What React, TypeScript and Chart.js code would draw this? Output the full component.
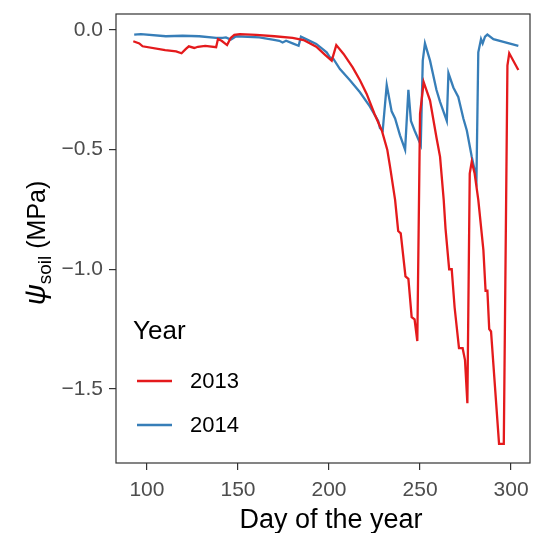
import React, { useEffect, useRef } from "react";
import { Chart, registerables } from "chart.js";
Chart.register(...registerables);

const days2013 = [92.5,95.8,97.6,110,116,119,121.4,123,126,128,132,138,139,141,144,146,148,151,160,170,180,186,193,198,201.5,204,208,213,217,220.7,225,229,232,233.5,236.3,238,239.4,242,243.6,245.4,247,248.5,250,252,255.5,259,261,263,264,266,267.4,269,271.4,273.4,274.7,276,277.3,278.4,280,282,284.8,286,287,288,289,293.4,296,298,299,304];
const psi2013 = [-0.047,-0.056,-0.068,-0.084,-0.089,-0.097,-0.079,-0.068,-0.075,-0.070,-0.066,-0.072,-0.038,-0.045,-0.063,-0.033,-0.020,-0.017,-0.020,-0.026,-0.033,-0.042,-0.070,-0.105,-0.128,-0.063,-0.100,-0.156,-0.21,-0.267,-0.351,-0.42,-0.50,-0.57,-0.71,-0.84,-0.85,-1.03,-1.04,-1.20,-1.21,-1.30,-0.35,-0.218,-0.295,-0.448,-0.53,-0.71,-0.83,-1.0,-1.0,-1.16,-1.33,-1.33,-1.38,-1.56,-0.60,-0.55,-0.60,-0.71,-0.92,-1.09,-1.09,-1.25,-1.26,-1.73,-1.73,-0.149,-0.097,-0.167];

const days2014 = [93,96.7,110.4,119.6,128.7,138,141.6,143.4,146,149,161.7,169,172.7,174.5,176.4,180,183.3,184.6,187.4,193,198.7,200.5,202.4,206,211.5,217,222.5,227,228,229.5,231.7,234.4,236.3,239,241.8,243.6,245,247,250.4,251.5,252.7,255.5,259,261,264.7,265.6,268.3,271,273.8,275.7,278.4,281,282,283.5,284.4,285.7,287,290.3,304];
const psi2014 = [-0.019,-0.017,-0.026,-0.024,-0.026,-0.033,-0.033,-0.031,-0.040,-0.026,-0.031,-0.040,-0.045,-0.052,-0.045,-0.056,-0.066,-0.028,-0.038,-0.058,-0.093,-0.114,-0.121,-0.163,-0.21,-0.26,-0.32,-0.38,-0.41,-0.42,-0.23,-0.34,-0.37,-0.44,-0.50,-0.25,-0.38,-0.42,-0.48,-0.128,-0.056,-0.128,-0.25,-0.30,-0.38,-0.18,-0.24,-0.28,-0.37,-0.42,-0.53,-0.62,-0.093,-0.038,-0.056,-0.028,-0.019,-0.038,-0.066];

const years = ["2013", "2014"];
const colors = ["#E41A1C", "#377EB8"];
const xTicks = [100, 150, 200, 250, 300];
const yTicks = [0, -0.5, -1.0, -1.5];
const legendTitle = "Year";
const xTitle = "Day of the year";

const FONT = "'Liberation Sans', Arial, sans-serif";

export default function App() {
  const ref = useRef<HTMLCanvasElement | null>(null);
  useEffect(() => {
    const canvas = ref.current!;
    const mk = (d: number[], v: number[]) => d.map((x, i) => ({ x, y: v[i] }));

    const framePlugin = {
      id: "frame",
      afterDraw(chart: any) {
        const { ctx, chartArea: a } = chart;
        ctx.save();
        ctx.strokeStyle = "#333333";
        ctx.lineWidth = 1.2;
        ctx.strokeRect(a.left, a.top, a.right - a.left, a.bottom - a.top);

        // x title
        ctx.fillStyle = "#000";
        ctx.font = `27px ${FONT}`;
        ctx.textAlign = "center";
        ctx.textBaseline = "middle";
        ctx.fillText(xTitle, 331, 521);
        ctx.restore();

        // y title
        ctx.save();
        ctx.translate(37, 243);
        ctx.rotate(-Math.PI / 2);
        ctx.fillStyle = "#000";
        ctx.textBaseline = "alphabetic";
        ctx.textAlign = "left";
        const psi = "ψ";
        const f1 = `italic 29px ${FONT}`;
        const f2 = `19px ${FONT}`;
        const f3 = `25px ${FONT}`;
        ctx.font = f1;
        const w1 = ctx.measureText(psi).width;
        ctx.font = f2;
        const w2 = ctx.measureText("soil").width;
        ctx.font = f3;
        const w3 = ctx.measureText(" (MPa)").width;
        let x0 = -(w1 + w2 + w3) / 2;
        ctx.font = f1;
        ctx.fillText(psi, x0, 8);
        x0 += w1;
        ctx.font = f2;
        ctx.fillText("soil", x0, 14);
        x0 += w2;
        ctx.font = f3;
        ctx.fillText(" (MPa)", x0, 8);
        ctx.restore();

        // legend
        ctx.save();
        ctx.fillStyle = "#000";
        ctx.font = `26px ${FONT}`;
        ctx.textBaseline = "middle";
        ctx.fillText(legendTitle, 133, 332);
        ctx.font = `22px ${FONT}`;
        const ys = [381, 425];
        years.forEach((yr, i) => {
          ctx.strokeStyle = colors[i];
          ctx.lineWidth = 2.4;
          ctx.beginPath();
          ctx.moveTo(137, ys[i]);
          ctx.lineTo(172, ys[i]);
          ctx.stroke();
          ctx.fillText(yr, 190, ys[i] + 1);
        });
        ctx.restore();
      },
    };

    const chart = new Chart(canvas, {
      type: "line",
      data: {
        datasets: [
          { label: years[0], data: mk(days2013, psi2013), borderColor: colors[0], borderWidth: 2.3, pointRadius: 0, tension: 0, fill: false },
          { label: years[1], data: mk(days2014, psi2014), borderColor: colors[1], borderWidth: 2.3, pointRadius: 0, tension: 0, fill: false },
        ],
      },
      options: {
        animation: false,
        responsive: false,
        maintainAspectRatio: false,
        events: [],
        layout: { padding: { top: 14, right: 3, left: 0, bottom: 0 } },
        plugins: { legend: { display: false }, tooltip: { enabled: false }, title: { display: false } },
        scales: {
          x: {
            type: "linear",
            min: 83,
            max: 310.4,
            afterBuildTicks: (s: any) => { s.ticks = xTicks.map((v) => ({ value: v })); },
            afterFit: (s: any) => { s.height = 70; s.paddingLeft = 0; s.paddingRight = 0; },
            border: { display: false },
            grid: { drawOnChartArea: false, drawTicks: true, tickLength: 7, color: "#333333", lineWidth: 1.2 },
            ticks: { color: "#4D4D4D", font: { size: 21, family: FONT }, padding: 8, maxRotation: 0, autoSkip: false },
          },
          y: {
            type: "linear",
            min: -1.81,
            max: 0.067,
            afterBuildTicks: (s: any) => { s.ticks = yTicks.map((v) => ({ value: v })); },
            afterFit: (s: any) => { s.width = 116; s.paddingTop = 0; s.paddingBottom = 0; },
            border: { display: false },
            grid: { drawOnChartArea: false, drawTicks: true, tickLength: 7, color: "#333333", lineWidth: 1.2 },
            ticks: {
              color: "#4D4D4D",
              font: { size: 21, family: FONT },
              padding: 6,
              autoSkip: false,
              callback: (v: any) => (Number(v) < 0 ? "\u2212" + Math.abs(Number(v)).toFixed(1) : Number(v).toFixed(1)),
            },
          },
        },
      },
      plugins: [framePlugin],
    });
    return () => chart.destroy();
  }, []);

  return (
    <div style={{ position: "fixed", left: 0, top: 0, width: 533, height: 533, background: "#fff" }}>
      <canvas ref={ref} width={533} height={533} style={{ width: 533, height: 533, display: "block" }} />
    </div>
  );
}
